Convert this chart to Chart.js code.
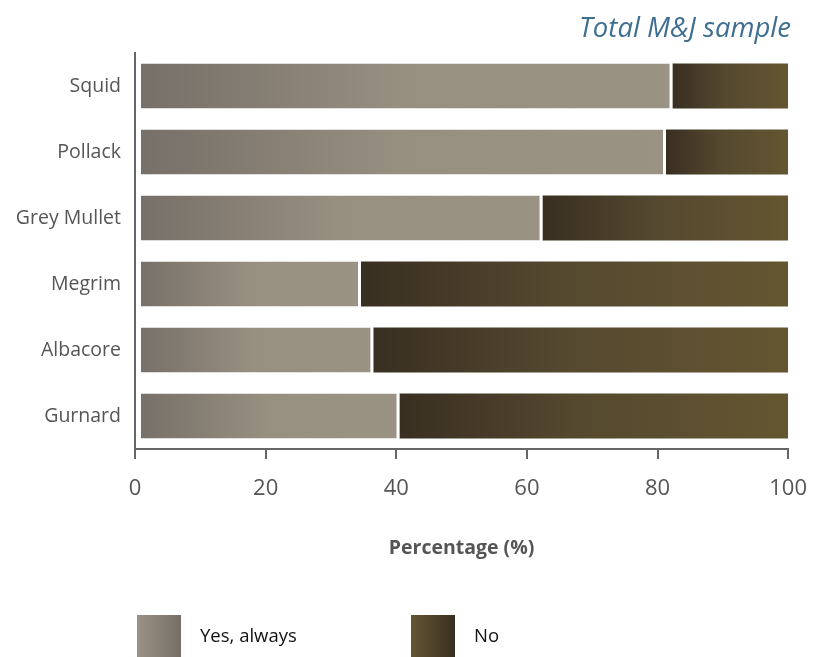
<!DOCTYPE html>
<html>
<head>
<meta charset="utf-8">
<script src="https://cdn.jsdelivr.net/npm/chart.js@4.4.0/dist/chart.umd.min.js"></script>
<style>
  html, body { margin: 0; padding: 0; background: #fff; }
</style>
</head>
<body>
<canvas id="myChart" width="824" height="657"></canvas>
<script>
// Answers per species, percent of the whole sample
var species = ['Squid', 'Pollack', 'Grey Mullet', 'Megrim', 'Albacore', 'Gurnard'];
var yesAlways = [82.3, 81.3, 62.4, 34.6, 36.5, 40.5];
var no = [17.7, 18.7, 37.6, 65.4, 63.5, 59.5];
var xTicks = [0, 20, 40, 60, 80, 100];

var axisColor = '#666';
var textColor = '#555';

Chart.defaults.font.family = "'Open Sans', sans-serif";

// horizontal gradient spanning one bar segment
function segmentGradient(ctx, stops) {
  var chart = ctx.chart;
  if (!chart.chartArea || ctx.type !== 'data') return stops[stops.length - 1][1];
  var x = chart.scales.x;
  var start = ctx.datasetIndex === 0 ? 0 : yesAlways[ctx.dataIndex];
  var x0 = x.getPixelForValue(start);
  var x1 = x.getPixelForValue(start + ctx.raw);
  var g = chart.ctx.createLinearGradient(x0, 0, x1, 0);
  stops.forEach(function(s) { g.addColorStop(s[0], s[1]); });
  return g;
}

var yesStops = [[0, '#766f68'], [0.5, '#978f80'], [1, '#9a9283']];
var noStops = [[0, '#392f21'], [0.45, '#54482f'], [1, '#655631']];

// square swatches under the chart
var legendBoxes = {
  id: 'legendBoxes',
  afterDraw: function(chart) {
    var c = chart.ctx;
    var left = chart.chartArea.left;
    var slots = [left + 2, left + 276];
    var swatch = [['#9a9283', '#766f68'], ['#655631', '#392f21']];
    var y = chart.height - 42;
    c.save();
    chart.data.datasets.forEach(function(ds, i) {
      var x = slots[i];
      var g = c.createLinearGradient(x, 0, x + 44, 0);
      g.addColorStop(0, swatch[i][0]);
      g.addColorStop(1, swatch[i][1]);
      c.fillStyle = g;
      c.fillRect(x, y, 44, 42);
      c.fillStyle = '#111';
      c.font = "18.5px 'Open Sans', sans-serif";
      c.textBaseline = 'middle';
      c.textAlign = 'left';
      c.fillText(ds.label, x + 63, y + 22);
    });
    c.restore();
  }
};

var ctx = document.getElementById('myChart').getContext('2d');
var myChart = new Chart(ctx, {
  type: 'bar',
  data: {
    labels: species,
    datasets: [{
      label: 'Yes, always',
      data: yesAlways,
      backgroundColor: function(c) { return segmentGradient(c, yesStops); },
      borderColor: '#fff',
      borderWidth: { left: 5, right: 3, top: 0, bottom: 0 },
      borderSkipped: false
    }, {
      label: 'No',
      data: no,
      backgroundColor: function(c) { return segmentGradient(c, noStops); },
      borderWidth: 0
    }]
  },
  options: {
    indexAxis: 'y',
    responsive: false,
    animation: false,
    barPercentage: 0.68,
    categoryPercentage: 1,
    layout: { padding: { top: 0, right: 33, bottom: 92, left: 0 } },
    plugins: {
      legend: { display: false },
      tooltip: { enabled: false },
      title: {
        display: true,
        text: 'Total M&J sample',
        align: 'end',
        color: '#3f6f90',
        font: { size: 27.5, style: 'italic', weight: 'normal' },
        padding: { top: 13, bottom: 7 }
      }
    },
    scales: {
      x: {
        stacked: true,
        min: 0,
        max: 100,
        afterBuildTicks: function(scale) {
          scale.ticks = xTicks.map(function(v) { return { value: v }; });
        },
        afterFit: function(scale) { scale.height = 116; },
        grid: { drawOnChartArea: false, drawTicks: true, tickLength: 10, color: axisColor, lineWidth: 2 },
        border: { display: true, color: axisColor, width: 2 },
        ticks: { color: textColor, font: { size: 22 }, padding: 17 },
        title: {
          display: true,
          text: 'Percentage (%)',
          color: textColor,
          font: { size: 19.5, weight: 'bold' },
          padding: { top: 0, bottom: 5 }
        }
      },
      y: {
        stacked: true,
        afterFit: function(scale) { scale.width = 135; },
        grid: { display: false },
        border: { display: true, color: axisColor, width: 2 },
        ticks: { color: textColor, font: { size: 19.5 }, padding: 6 }
      }
    }
  },
  plugins: [legendBoxes]
});
</script>
</body>
</html>
